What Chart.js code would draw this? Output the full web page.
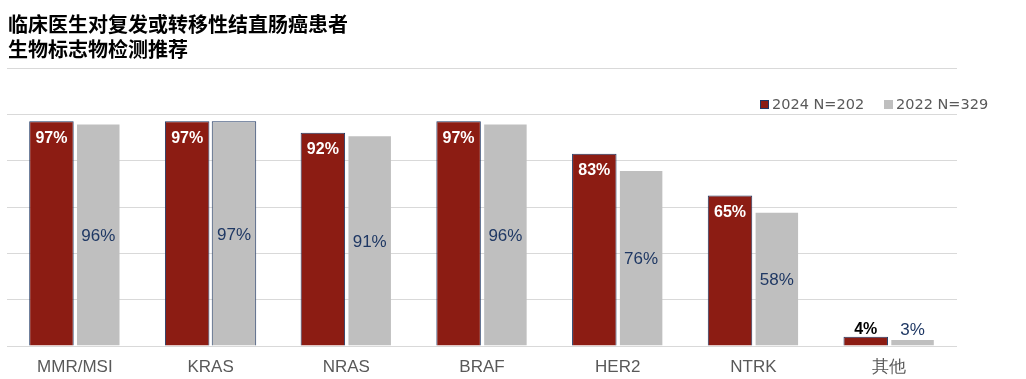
<!DOCTYPE html>
<html>
<head>
<meta charset="utf-8">
<script src="https://cdn.jsdelivr.net/npm/chart.js@4.4.1/dist/chart.umd.min.js"></script>
<style>
  html, body { margin: 0; padding: 0; background: #fff; }
  #wrap { width: 1026px; height: 379px; }
</style>
</head>
<body>
<div id="wrap"><canvas id="myChart" width="1026" height="379"></canvas></div>
<script>
const titleLines = ["临床医生对复发或转移性结直肠癌患者", "生物标志物检测推荐"];
const labels = ["MMR/MSI", "KRAS", "NRAS", "BRAF", "HER2", "NTRK", "其他"];
const seriesNames = ["2024 N=202", "2022 N=329"];
const values2024 = [97, 97, 92, 97, 83, 65, 4];
const values2022 = [96, 97, 91, 96, 76, 58, 3];

const RED = "#8C1C13";
const GREY = "#BFBFBF";
const NAVY = "#1F3864";
const GRID = "#D9D9D9";
const latin = "'Liberation Sans', Arial, sans-serif";

// the KRAS bar of 2022 has an outline in the original
const greyBorder = (ctx) => (labels[ctx.dataIndex] === "KRAS" ? NAVY : "rgba(0,0,0,0)");

const data = {
    labels: labels,
    datasets: [
        {
            label: seriesNames[0],
            data: values2024,
            backgroundColor: RED,
            borderColor: NAVY,
            borderWidth: 1,
            barPercentage: 0.95,
            categoryPercentage: 0.69,
        },
        {
            label: seriesNames[1],
            data: values2022,
            backgroundColor: GREY,
            borderColor: greyBorder,
            borderWidth: 1,
            barPercentage: 0.95,
            categoryPercentage: 0.69,
        },
    ],
};

// title, legend and value labels
const decorations = {
    id: "decorations",
    afterDraw(chart) {
        const c = chart.ctx;
        c.save();

        c.fillStyle = "#000";
        c.font = "bold 20px 'Noto Sans CJK SC', sans-serif";
        c.textAlign = "left";
        c.textBaseline = "middle";
        titleLines.forEach((t, i) => c.fillText(t, 8, 24 + i * 25));

        // legend
        const legendItems = [
            { x: 760, fill: RED, stroke: NAVY },
            { x: 884, fill: GREY, stroke: null },
        ];
        c.font = "14.5px 'DejaVu Sans', sans-serif";
        legendItems.forEach((it, i) => {
            c.fillStyle = it.fill;
            c.fillRect(it.x, 100, 9, 9);
            if (it.stroke) {
                c.strokeStyle = it.stroke;
                c.lineWidth = 1;
                c.strokeRect(it.x + 0.5, 100.5, 8, 8);
            }
            c.fillStyle = "#595959";
            c.fillText(seriesNames[i], it.x + 12, 105);
        });

        // value labels
        c.textAlign = "center";
        chart.data.datasets.forEach((ds, di) => {
            const meta = chart.getDatasetMeta(di);
            meta.data.forEach((bar, i) => {
                const txt = ds.data[i] + "%";
                const h = bar.base - bar.y;
                if (di === 0) {
                    c.font = "bold 16px " + latin;
                    if (h > 30) {
                        c.fillStyle = "#fff";
                        c.fillText(txt, bar.x, bar.y + 17);
                    } else {
                        c.fillStyle = "#000";
                        c.fillText(txt, bar.x, bar.y - 7);
                    }
                } else {
                    c.font = "17px " + latin;
                    c.fillStyle = NAVY;
                    if (h > 30) {
                        c.fillText(txt, bar.x, (bar.y + bar.base) / 2 + 2);
                    } else {
                        c.fillText(txt, bar.x, bar.y - 9);
                    }
                }
            });
        });
        c.restore();
    },
};

const config = {
    type: "bar",
    data,
    plugins: [decorations],
    options: {
        responsive: false,
        animation: false,
        layout: {
            padding: { left: 7, right: 69, top: 68, bottom: 0 },
        },
        plugins: {
            legend: { display: false },
            title: { display: false },
            tooltip: { enabled: false },
        },
        scales: {
            x: {
                grid: { display: false },
                border: { display: false },
                ticks: {
                    color: "#595959",
                    padding: 3,
                    font: { family: latin, size: 17 },
                },
                afterFit: (scale) => { scale.height = 33; },
            },
            y: {
                min: 0,
                max: 120,
                grid: { color: GRID, lineWidth: 1, drawTicks: false },
                border: { display: false },
                ticks: { display: false, stepSize: 20 },
            },
        },
    },
};

const ctx = document.getElementById("myChart").getContext("2d");
const chart = new Chart(ctx, config);
</script>
</body>
</html>
